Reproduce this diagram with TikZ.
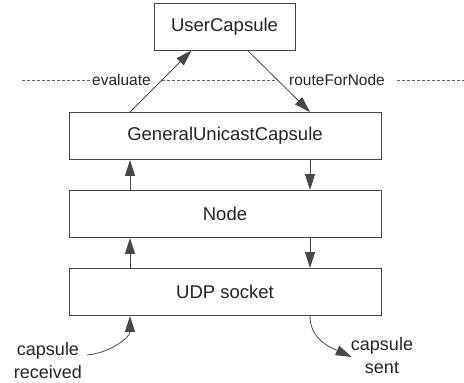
\documentclass[tikz,border=0pt]{standalone}
\usepackage{fontspec}
\setmainfont{Liberation Sans}
\usetikzlibrary{arrows.meta}
\definecolor{linegray}{RGB}{70,70,70}
\definecolor{inkgray}{RGB}{35,35,35}

\tikzset{
  layer/.style={draw=linegray,line width=0.9pt,minimum width=312pt,minimum height=47pt,
    inner sep=0pt,text=inkgray,font=\fontsize{18.5}{21}\selectfont},
  callarrow/.style={-{Triangle[length=16pt,width=10pt]},line width=0.8pt,draw=linegray,fill=none},
  calllabel/.style={inner sep=0pt,text=inkgray,font=\fontsize{15.5}{18}\selectfont},
  ioside/.style={inner sep=0pt,align=center,text=inkgray,font=\fontsize{18}{23}\selectfont},
  boundary/.style={draw=linegray!85,line width=0.7pt,dash pattern=on 3pt off 2pt},
}

\begin{document}
\begin{tikzpicture}[x=1pt,y=-1pt]
  \useasboundingbox (0,0) rectangle (464,383);
  % Layers, top to bottom
  \node[layer,minimum width=141pt] (user) at (224.5,26.5) {UserCapsule};
  \node[layer] (guc) at (225,136) {GeneralUnicastCapsule};
  \node[layer] (node) at (225,214) {Node};
  \node[layer] (udp) at (225,292) {UDP socket};
  % Up and down columns
  \coordinate (up) at (130,0);
  \coordinate (down) at (310,0);
  \foreach \lo/\hi in {node/guc,udp/node} {
    \draw[callarrow] (\lo.north -| up) -- (\hi.south -| up);
    \draw[callarrow] (\hi.south -| down) -- (\lo.north -| down);
  }
  % Calls into and out of the user capsule
  \draw[callarrow] (guc.north -| up) -- coordinate[pos=0.52] (evalcross) ([xshift=38pt]user.south west);
  \draw[callarrow] ([xshift=94pt]user.south west) -- coordinate[pos=0.48] (routecross) (guc.north -| down);
  \node[calllabel,anchor=west] (evallbl) at (92,80) {evaluate};
  \node[calllabel,anchor=west] (routelbl) at (289,80) {routeForNode};
  % Boundary line
  \draw[boundary] (22,80) -- (evallbl.west)
    (evalcross |- evallbl) -- (routecross |- evallbl)
    ([xshift=12pt]routelbl.east) -- (464,80);
  % Network side
  \node[ioside] (rcv) at (48,361) {capsule\\received};
  \node[ioside] (snt) at (382,356) {capsule\\sent};
  \draw[callarrow] ([shift={(5pt,6pt)}]rcv.east) .. controls +(22,-2) and +(0,22) .. (udp.south -| up);
  \draw[callarrow] (udp.south -| down) .. controls +(0,24) and +(-20,-9) .. ([shift={(1pt,-1pt)}]snt.west);
\end{tikzpicture}
\end{document}
